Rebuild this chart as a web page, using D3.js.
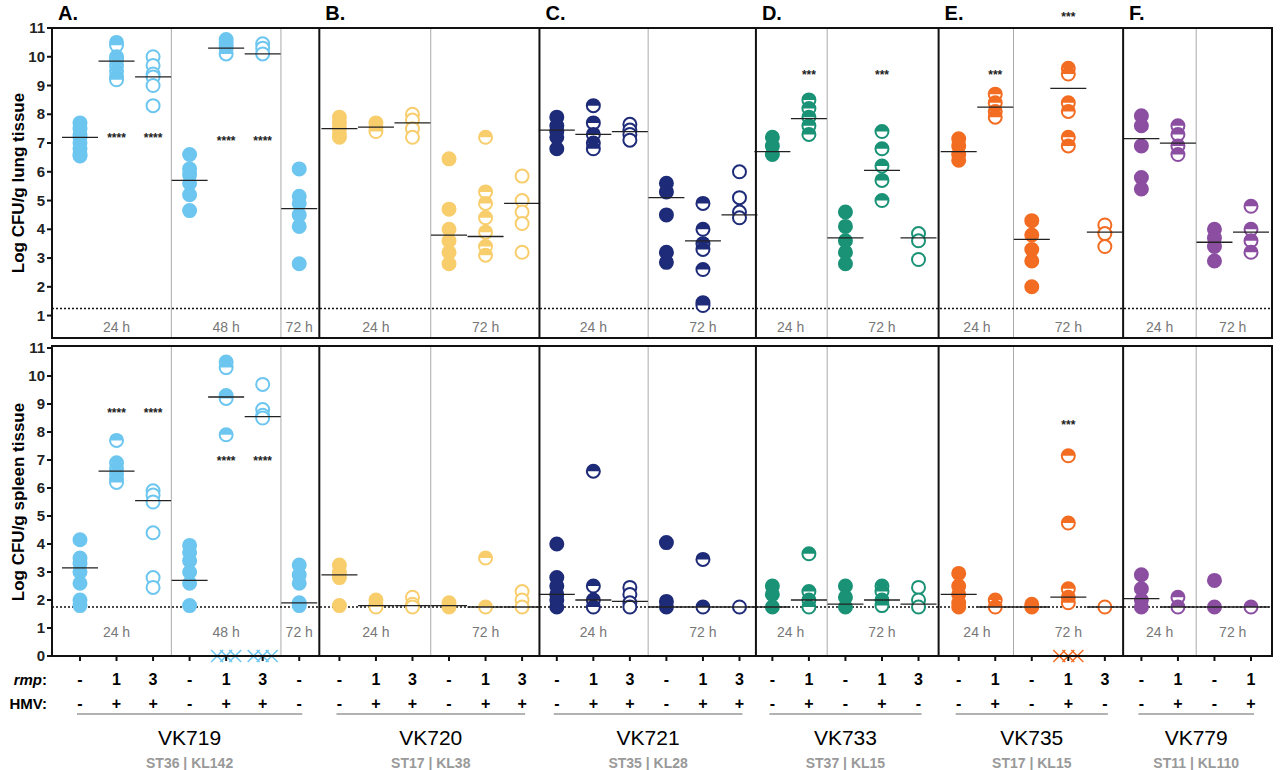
<!DOCTYPE html>
<meta charset="utf-8">
<script src="https://d3js.org/d3.v7.min.js"></script>
<style>
  body { margin:0; background:#fff; font-family: Arial, "Liberation Sans", sans-serif; }
</style>
<body>
<div id="vis"></div>
<script>
// ---- data ----
var panels = ["A.", "B.", "C.", "D.", "E.", "F."];
var strains = ["VK719", "VK720", "VK721", "VK733", "VK735", "VK779"];
var stLabels = ["ST36 | KL142", "ST17 | KL38", "ST35 | KL28", "ST37 | KL15", "ST17 | KL15", "ST11 | KL110"];
var colors = ["#6cc6ef", "#f8cd6c", "#1e2b78", "#1a9276", "#f26c22", "#8b4ea1"];
var rmp = [["-","1","3","-","1","3","-"], ["-","1","3","-","1","3"], ["-","1","3","-","1","3"],
           ["-","1","-","1","3"], ["-","1","-","1","3"], ["-","1","-","1"]];
var hmv = [["-","+","+","-","+","+","-"], ["-","+","+","-","+","+"], ["-","+","+","-","+","+"],
           ["-","+","-","+","-"], ["-","+","-","+","-"], ["-","+","-","+"]];
// time groups: [label, first col, last col]
var times = [[["24 h",0,2],["48 h",3,5],["72 h",6,6]], [["24 h",0,2],["72 h",3,5]], [["24 h",0,2],["72 h",3,5]],
             [["24 h",0,1],["72 h",2,4]], [["24 h",0,1],["72 h",2,4]], [["24 h",0,1],["72 h",2,3]]];
var panelStart = [0, 7.1, 13.05, 18.95, 24.05, 29.05];

var lung = [
  [[7.7,7.5,7.3,7.2,7.0,6.8,6.6,6.55],[10.5,10.4,10.0,9.9,9.7,9.5,9.3,9.2],[10.0,9.7,9.4,9.3,9.0,8.3],[6.6,6.1,5.9,5.6,5.2,4.65],[10.6,10.5,10.4,10.3,10.1],[10.45,10.3,10.1],[6.1,5.15,4.9,4.5,4.1,2.8]],
  [[7.9,7.7,7.5,7.3,7.2],[7.7,7.55,7.4],[8.0,7.8,7.5,7.2],[6.45,4.7,4.0,3.6,3.2,2.8],[7.2,5.3,4.9,4.4,3.9,3.4,3.1],[5.85,5.0,4.6,4.2,3.2]],
  [[7.9,7.6,7.4,7.2,6.8],[8.3,7.7,7.3,7.0,6.8],[7.65,7.45,7.3,7.1],[5.6,5.3,4.5,3.2,2.85],[4.9,4.0,3.5,3.3,2.6,1.45,1.35],[6.0,5.1,4.6,4.4]],
  [[7.2,6.9,6.6],[8.5,8.2,7.9,7.6,7.3],[4.6,4.1,3.6,3.2,2.8],[7.4,6.8,6.2,5.7,5.0],[3.85,3.6,2.95]],
  [[7.15,6.9,6.6,6.4],[8.7,8.4,8.1,7.9],[4.3,3.8,3.3,2.9,2.0],[9.6,9.4,8.4,8.1,7.2,6.9],[4.15,3.85,3.4]],
  [[7.95,7.6,6.9,5.8,5.4],[7.6,7.3,6.9,6.6],[4.0,3.7,3.4,2.9],[4.8,4.0,3.6,3.2]]
];
var lungMed = [[7.2,9.85,9.3,5.7,10.3,10.1,4.72],[7.5,7.55,7.7,3.8,3.75,4.9],[7.45,7.3,7.4,5.1,3.6,4.5],
               [6.7,7.85,3.7,6.05,3.7],[6.7,8.25,3.65,8.9,3.9],[7.15,7.0,3.55,3.9]];
// [panel, col, y value, stars]
var lungStars = [[0,1,7.2,"****"],[0,2,7.2,"****"],[0,4,7.1,"****"],[0,5,7.1,"****"],
                 [3,1,9.4,"***"],[3,3,9.4,"***"],[4,1,9.4,"***"],[4,3,11.4,"***"]];

var spleen = [
  [[4.15,3.5,3.3,3.0,2.6,2.0,1.8],[7.7,6.9,6.7,6.5,6.3,6.2],[5.9,5.75,5.5,4.4,2.8,2.45],[3.95,3.7,3.4,3.0,2.6,1.8],[10.5,10.3,9.3,9.2,7.9],[9.7,8.8,8.6,8.5],[3.25,2.9,2.6,1.9,1.8]],
  [[3.25,3.0,2.8,1.8],[2.0,1.8,1.75],[2.1,1.85,1.75],[1.9,1.75],[3.5,1.75],[2.3,2.0,1.75]],
  [[4.0,2.8,2.5,2.2,2.0,1.75],[6.6,2.5,2.0,1.75],[2.45,2.2,1.9,1.75],[4.05,1.95,1.75],[3.45,1.75],[1.75]],
  [[2.5,2.2,1.75],[3.65,2.3,2.0,1.75],[2.5,2.1,1.75],[2.5,2.3,2.0,1.8],[2.45,2.0,1.75]],
  [[2.95,2.5,2.2,1.9,1.75],[2.0,1.75],[1.85,1.75],[7.15,4.75,2.4,2.1,1.9],[1.75]],
  [[2.9,2.4,2.0,1.75],[2.1,1.75],[2.7,1.75],[1.75]]
];
var spleenMed = [[3.15,6.6,5.55,2.7,9.25,8.55,1.9],[2.9,1.8,1.8,1.8,1.75,1.75],[2.2,2.0,1.95,1.75,1.75,1.75],
                 [1.75,2.0,1.85,2.0,1.85],[2.2,1.75,1.75,2.1,1.75],[2.05,1.75,1.75,1.75]];
var spleenStars = [[0,1,8.7,"****"],[0,2,8.7,"****"],[0,4,7.0,"****"],[0,5,7.0,"****"],[4,3,8.3,"***"]];
// dead animals (plotted as X at 0): [panel, col, count]
var spleenDead = [[0,4,3],[0,5,3],[4,3,3]];

var lungLOD = 1.25, spleenLOD = 1.75;

// ---- layout ----
var W = 1280, H = 770, left = 52, right = 1272;
var svg = d3.select("#vis").append("svg").attr("width", W).attr("height", H);

var x = d3.scaleLinear().domain([0, 32.05]).range([80, 1251]);
function colX(p, c) { return x(panelStart[p] + c); }
function boundary(p) { return p == 0 ? left : p == 6 ? right : (colX(p - 1, rmp[p - 1].length - 1) + colX(p, 0)) / 2; }

var yTop = d3.scaleLinear().domain([0.22, 11]).range([338, 28]);
var yBot = d3.scaleLinear().domain([0, 11]).range([656, 348]);

var r = 6.5;

function drawPlot(yS, vals, meds, stars, lod, label, dead, boxTop) {
  var g = svg.append("g");
  var y0 = yS.range()[0], y1 = boxTop;

  // sub dividers
  times.forEach(function(tg, p) {
    tg.forEach(function(t, i) {
      if (i > 0) {
        var xx = (colX(p, t[1] - 1) + colX(p, t[1])) / 2;
        g.append("line").attr("x1", xx).attr("x2", xx).attr("y1", y1).attr("y2", y0)
          .attr("stroke", "#aaa").attr("stroke-width", 1);
      }
      var cx = (colX(p, t[1]) + colX(p, t[2])) / 2;
      g.append("text").attr("x", cx).attr("y", yS(lod) + (label.indexOf("lung") > 0 ? 24 : 30))
        .attr("text-anchor", "middle").style("font-size", "14px").style("fill", "#777").text(t[0]);
    });
  });

  // LOD
  g.append("line").attr("x1", left).attr("x2", right).attr("y1", yS(lod)).attr("y2", yS(lod))
    .attr("stroke", "#111").attr("stroke-width", 1.5).attr("stroke-dasharray", "2,2");

  // points
  vals.forEach(function(cols, p) {
    cols.forEach(function(vs, c) {
      var cx = colX(p, c), type = rmp[p][c], col = colors[p];
      vs.forEach(function(v) {
        var gg = g.append("g").attr("transform", "translate(" + cx + "," + yS(v) + ")");
        gg.append("circle").attr("r", r)
          .attr("fill", type == "-" ? col : "#fff").attr("stroke", col).attr("stroke-width", 2);
        if (type == "1")
          gg.append("path").attr("d", "M" + (-r) + ",0 A" + r + "," + r + " 0 0 1 " + r + ",0 Z").attr("fill", col);
      });
      var m = meds[p][c];
      g.append("line").attr("x1", cx - 18).attr("x2", cx + 18).attr("y1", yS(m)).attr("y2", yS(m))
        .attr("stroke", "#222").attr("stroke-width", 1.3);
    });
  });

  stars.forEach(function(s) {
    g.append("text").attr("x", colX(s[0], s[1])).attr("y", yS(s[2]) + 5).attr("text-anchor", "middle")
      .style("font-size", "12px").style("font-weight", "bold").style("fill", "#222").text(s[3]);
  });

  (dead || []).forEach(function(d) {
    var cx = colX(d[0], d[1]);
    for (var i = 0; i < d[2]; i++) {
      var xx = cx + (i - (d[2] - 1) / 2) * 9, yy = yS(0), s = 6;
      g.append("path").attr("d", "M" + (xx - s) + "," + (yy - s) + "L" + (xx + s) + "," + (yy + s) +
        "M" + (xx - s) + "," + (yy + s) + "L" + (xx + s) + "," + (yy - s))
        .attr("stroke", colors[d[0]]).attr("stroke-width", 1.5);
    }
  });

  // panel borders
  for (var p = 1; p < 6; p++) {
    g.append("line").attr("x1", boundary(p)).attr("x2", boundary(p)).attr("y1", y1).attr("y2", y0)
      .attr("stroke", "#111").attr("stroke-width", 2);
  }
  g.append("rect").attr("x", left).attr("y", y1).attr("width", right - left).attr("height", y0 - y1)
    .attr("fill", "none").attr("stroke", "#111").attr("stroke-width", 2);

  // y axis
  var ticks = d3.range(yS.domain()[0] < 0.1 ? 0 : 1, 12);
  ticks.forEach(function(t) {
    g.append("line").attr("x1", left - 5).attr("x2", left).attr("y1", yS(t)).attr("y2", yS(t)).attr("stroke", "#111").attr("stroke-width", 2);
    g.append("text").attr("x", left - 7).attr("y", yS(t) + 5).attr("text-anchor", "end")
      .style("font-size", "15px").style("font-weight", "bold").style("fill", "#222").text(t);
  });
  g.append("text").attr("transform", "translate(24," + (y0 + yS(11)) / 2 + ") rotate(-90)")
    .attr("text-anchor", "middle").style("font-size", "17px").style("font-weight", "bold").text(label);
}

drawPlot(yTop, lung, lungMed, lungStars, lungLOD, "Log CFU/g lung tissue", null, 28);
drawPlot(yBot, spleen, spleenMed, spleenStars, spleenLOD, "Log CFU/g spleen tissue", spleenDead, 346);

// panel letters
panels.forEach(function(l, p) {
  svg.append("text").attr("x", boundary(p) + 6).attr("y", 20)
    .style("font-size", "20px").style("font-weight", "bold").text(l);
});

// bottom labels
svg.append("text").attr("x", 47).attr("y", 685).attr("text-anchor", "end")
  .style("font-size", "15px").style("font-weight", "bold").html("<tspan font-style='italic'>rmp</tspan>:");
svg.append("text").attr("x", 47).attr("y", 709).attr("text-anchor", "end")
  .style("font-size", "15px").style("font-weight", "bold").text("HMV:");
rmp.forEach(function(cols, p) {
  cols.forEach(function(v, c) {
    var cx = colX(p, c);
    svg.append("line").attr("x1", cx).attr("x2", cx).attr("y1", 656).attr("y2", 661).attr("stroke", "#111").attr("stroke-width", 2);
    svg.append("text").attr("x", cx).attr("y", 685).attr("text-anchor", "middle")
      .style("font-size", "16px").style("font-weight", "bold").text(v);
    svg.append("text").attr("x", cx).attr("y", 709).attr("text-anchor", "middle")
      .style("font-size", "16px").style("font-weight", "bold").text(hmv[p][c]);
  });
  var x1 = colX(p, 0) - 3, x2 = colX(p, cols.length - 1) + 3, mid = (x1 + x2) / 2;
  svg.append("line").attr("x1", x1).attr("x2", x2).attr("y1", 714).attr("y2", 714).attr("stroke", "#666").attr("stroke-width", 1.2);
  svg.append("text").attr("x", mid).attr("y", 745).attr("text-anchor", "middle")
    .style("font-size", "21px").text(strains[p]);
  svg.append("text").attr("x", mid).attr("y", 768).attr("text-anchor", "middle")
    .style("font-size", "14px").style("font-weight", "bold").style("fill", "#999").text(stLabels[p]);
});
</script>
